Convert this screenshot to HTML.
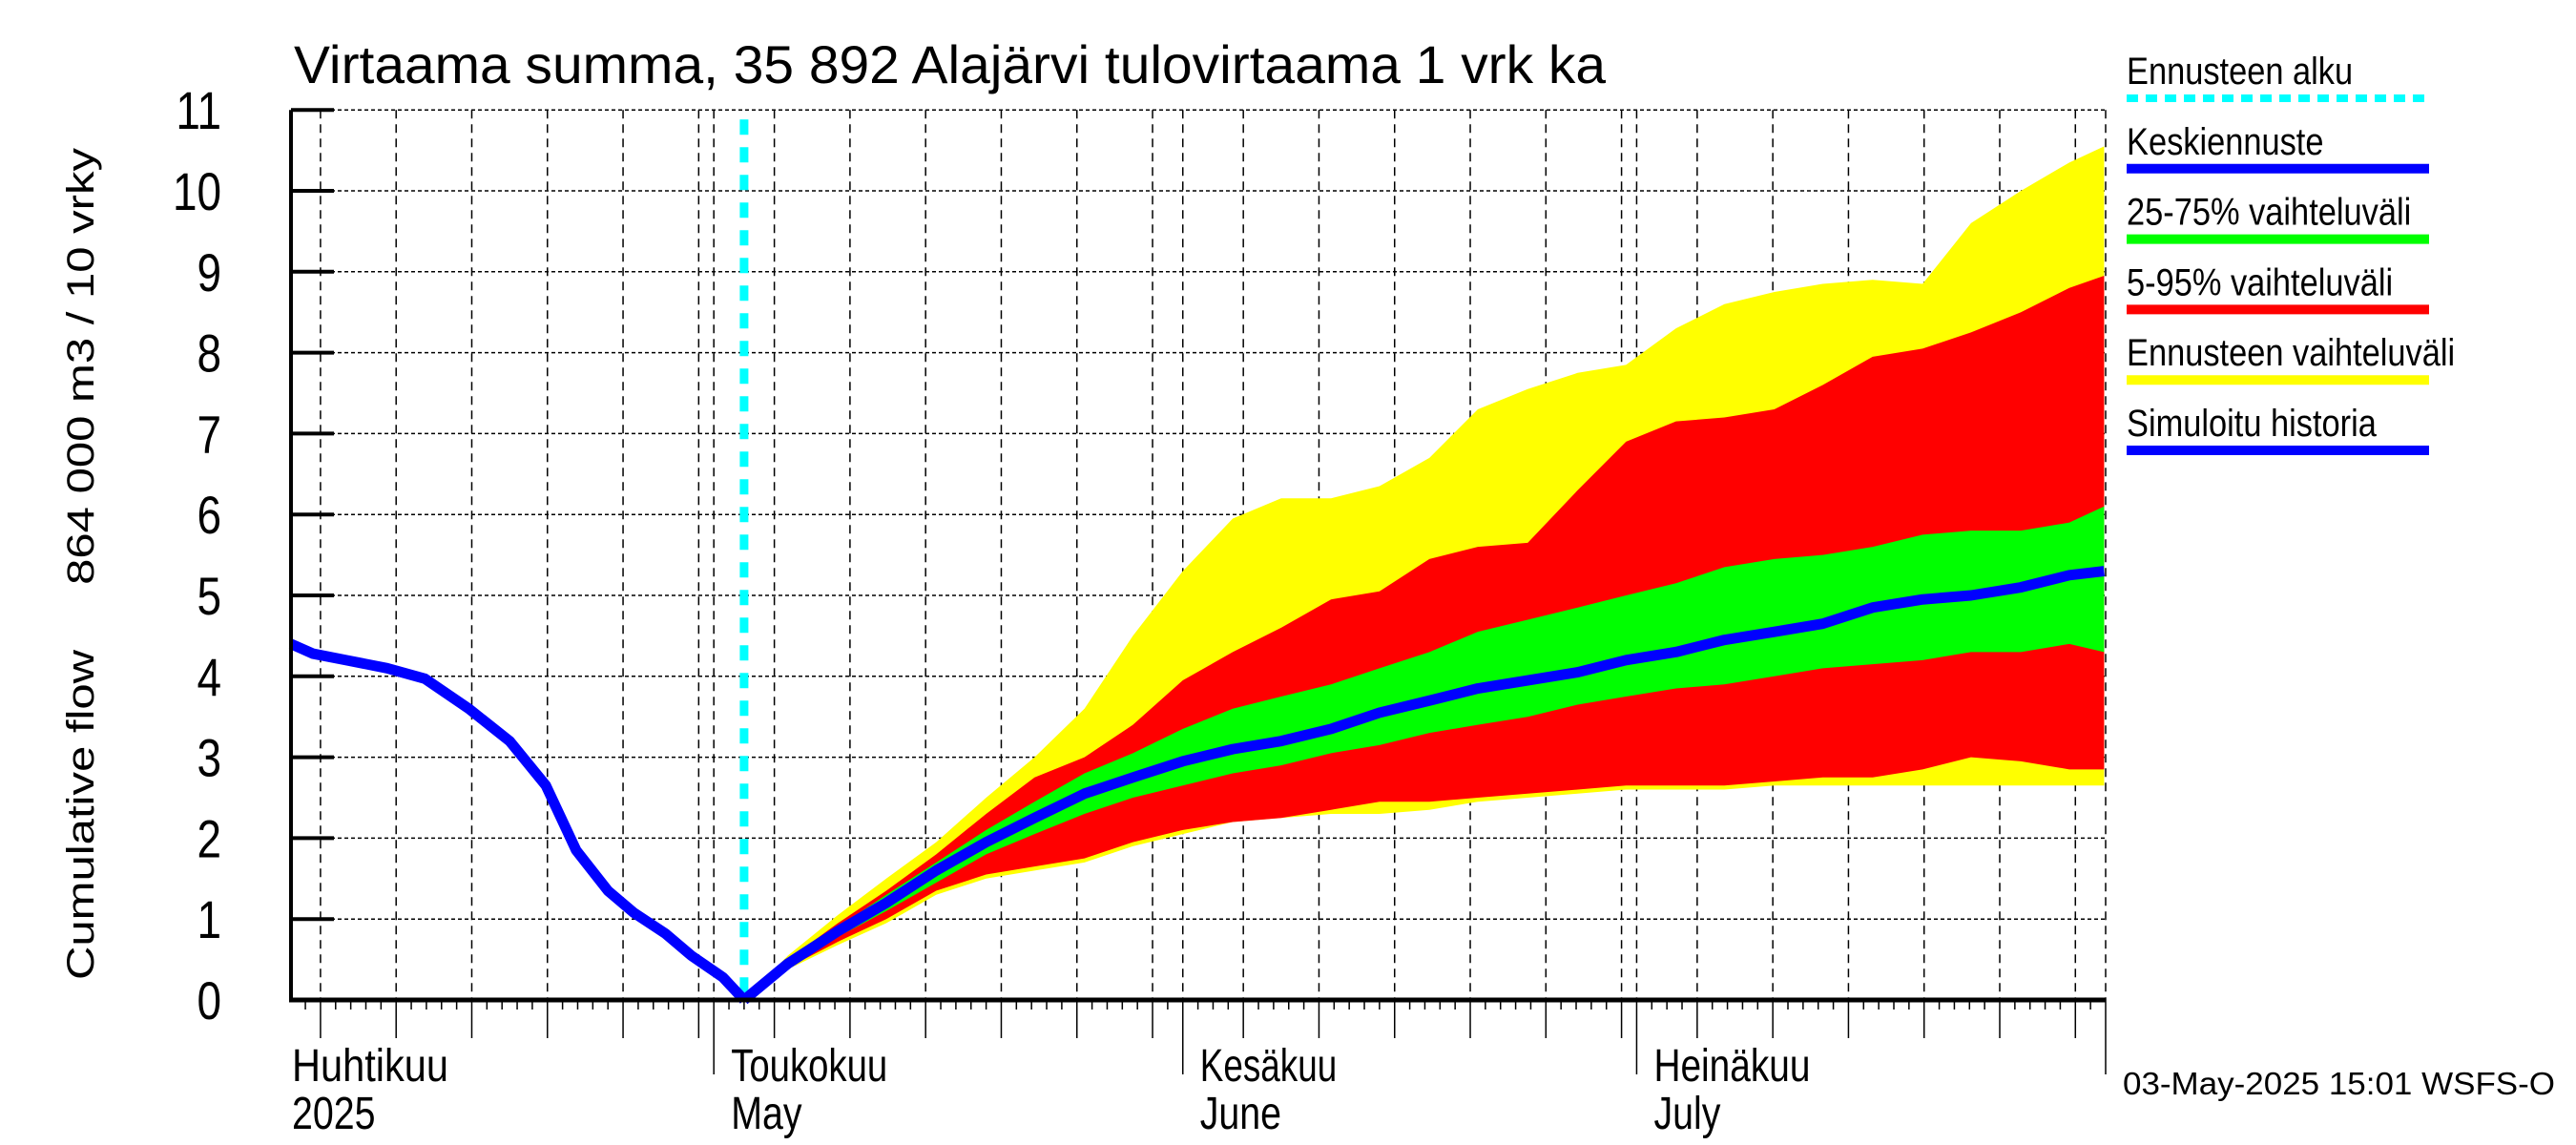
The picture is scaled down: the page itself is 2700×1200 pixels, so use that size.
<!DOCTYPE html>
<html><head><meta charset="utf-8"><style>
html,body{margin:0;padding:0;background:#fff;}
svg{display:block;font-family:"Liberation Sans",sans-serif;}
</style></head><body>
<svg id="chart" width="2700" height="1200" viewBox="0 0 2700 1200" xmlns="http://www.w3.org/2000/svg">
<rect x="0" y="0" width="2700" height="1200" fill="#fff"/>
<g id="grid"></g>
<g id="bands"></g>
<g id="lines"></g>
<g id="axes"></g>
<text x="308" y="87" font-size="56" textLength="1375" lengthAdjust="spacingAndGlyphs">Virtaama summa, 35 892 Alajärvi tulovirtaama 1 vrk ka</text>
<text transform="translate(98,1027) rotate(-90)" font-size="40" textLength="872" lengthAdjust="spacingAndGlyphs" xml:space="preserve">Cumulative flow     864 000 m3 / 10 vrky</text>
<g id="legend"></g>
<text x="2225" y="1147" font-size="33" textLength="453" lengthAdjust="spacingAndGlyphs">03-May-2025 15:01 WSFS-O</text>
</svg>
<script>
// Days since 1 April 2025
const histDays = [2.05, 3.5, 5.7, 8.4, 10.9, 13.8, 16.5, 18.9, 20.9, 23.0, 24.7, 26.8, 28.5, 30.6, 32.0];
const histValues = [4.4, 4.28, 4.2, 4.1, 3.97, 3.6, 3.2, 2.65, 1.85, 1.35, 1.08, 0.82, 0.55, 0.28, 0];
const fcDays = [32, 34.9, 38.2, 41.4, 44.7, 48.0, 51.2, 54.5, 57.7, 61.0, 64.3, 67.5, 70.8, 74.0, 77.3, 80.5, 83.8, 87.1, 90.3, 93.6, 96.8, 100.1, 103.3, 106.6, 109.9, 113.1, 116.4, 119.6, 121.9];
const fcMedian = [0, 0.45, 0.85, 1.2, 1.6, 1.95, 2.25, 2.55, 2.75, 2.95, 3.1, 3.2, 3.35, 3.55, 3.7, 3.85, 3.95, 4.05, 4.2, 4.3, 4.45, 4.55, 4.65, 4.85, 4.95, 5.0, 5.1, 5.25, 5.3];
const fcMax = [0, 0.55, 1.05, 1.5, 1.95, 2.5, 3.0, 3.6, 4.5, 5.3, 5.95, 6.2, 6.2, 6.35, 6.7, 7.3, 7.55, 7.75, 7.85, 8.3, 8.6, 8.75, 8.85, 8.9, 8.85, 9.6, 10.0, 10.35, 10.55];
const fcP95 = [0, 0.5, 0.95, 1.35, 1.8, 2.3, 2.75, 3.0, 3.4, 3.95, 4.3, 4.6, 4.95, 5.05, 5.45, 5.6, 5.65, 6.3, 6.9, 7.15, 7.2, 7.3, 7.6, 7.95, 8.05, 8.25, 8.5, 8.8, 8.95];
const fcP75 = [0, 0.48, 0.9, 1.3, 1.7, 2.1, 2.45, 2.8, 3.05, 3.35, 3.6, 3.75, 3.9, 4.1, 4.3, 4.55, 4.7, 4.85, 5.0, 5.15, 5.35, 5.45, 5.5, 5.6, 5.75, 5.8, 5.8, 5.9, 6.1];
const fcP25 = [0, 0.42, 0.78, 1.1, 1.45, 1.8, 2.05, 2.3, 2.5, 2.65, 2.8, 2.9, 3.05, 3.15, 3.3, 3.4, 3.5, 3.65, 3.75, 3.85, 3.9, 4.0, 4.1, 4.15, 4.2, 4.3, 4.3, 4.4, 4.3];
const fcP5 = [0, 0.4, 0.72, 1.0, 1.35, 1.55, 1.65, 1.75, 1.95, 2.1, 2.2, 2.25, 2.35, 2.45, 2.45, 2.5, 2.55, 2.6, 2.65, 2.65, 2.65, 2.7, 2.75, 2.75, 2.85, 3.0, 2.95, 2.85, 2.85];
const fcMin = [0, 0.38, 0.68, 0.95, 1.3, 1.5, 1.6, 1.7, 1.9, 2.05, 2.2, 2.25, 2.3, 2.3, 2.35, 2.45, 2.5, 2.55, 2.6, 2.6, 2.6, 2.65, 2.65, 2.65, 2.65, 2.65, 2.65, 2.65, 2.65];
const yTicks = [0,1,2,3,4,5,6,7,8,9,10,11];
const monthStarts = [0, 30, 61, 91, 122];
const monthLabelsFi = ["Huhtikuu", "Toukokuu", "Kesäkuu", "Heinäkuu"];
const monthLabelsEn = ["2025", "May", "June", "July"];
const forecastStart = 32;
const legendLabels = ["Ennusteen alku", "Keskiennuste", "25-75% vaihteluväli", "5-95% vaihteluväli", "Ennusteen vaihteluväli", "Simuloitu historia"];
const legendColors = ["#00ffff", "#0000ff", "#00ff00", "#ff0000", "#ffff00", "#0000ff"];

const X0 = 305, X1 = 2207, T0 = 2.05, T1 = 122, Y0 = 1048, YPU = 84.8;
const NS = "http://www.w3.org/2000/svg";
function sx(t){ return X0 + (t - T0) * (X1 - X0) / (T1 - T0); }
function sy(v){ return Y0 - v * YPU; }
function mk(tag, attrs, parent){ const e = document.createElementNS(NS, tag); for (const k in attrs) e.setAttribute(k, attrs[k]); parent.appendChild(e); return e; }
const grid = document.getElementById('grid'), bands = document.getElementById('bands'), lines = document.getElementById('lines'), axes = document.getElementById('axes'), legend = document.getElementById('legend');

yTicks.forEach(v => {
  if (v === 0) return;
  const l = mk('line', {x1: X0, x2: X1, y1: sy(v), y2: sy(v), stroke: '#000', 'stroke-width': 1.5, 'stroke-dasharray': '4 3'}, grid);
  
  
});
const gridDays = [];
for (let m = 0; m < 4; m++) {
  for (let d = 5; d <= 30; d += 5) { const t = monthStarts[m] + d - 1; if (t < monthStarts[m+1] && t > T0) gridDays.push(t); }
  if (m > 0) gridDays.push(monthStarts[m]);
}
gridDays.push(122);
gridDays.forEach(t => {
  const l = mk('line', {x1: sx(t), x2: sx(t), y1: sy(11), y2: Y0, stroke: '#000', 'stroke-width': 1.5, 'stroke-dasharray': '9 6'}, grid);
  
  
});

function band(upper, lower, color, name) {
  let pts = fcDays.map((t, i) => sx(t) + ',' + sy(upper[i]));
  for (let i = fcDays.length - 1; i >= 0; i--) pts.push(sx(fcDays[i]) + ',' + sy(lower[i]));
  const p = mk('polygon', {points: pts.join(' '), fill: color}, bands);
  
  
}
band(fcMax, fcMin, '#ffff00', 'forecast-range-band');
band(fcP95, fcP5, '#ff0000', 'band-5-95');
band(fcP75, fcP25, '#00ff00', 'band-25-75');

const cy = mk('line', {x1: sx(forecastStart), x2: sx(forecastStart), y1: sy(11) + 10, y2: Y0, stroke: '#00ffff', 'stroke-width': 9, 'stroke-dasharray': '16 13'}, lines);



const h = mk('polyline', {points: histDays.map((t, i) => sx(t) + ',' + sy(histValues[i])).join(' '), fill: 'none', stroke: '#0000ff', 'stroke-width': 11, 'stroke-linejoin': 'round'}, lines);


const md = mk('polyline', {points: fcDays.map((t, i) => sx(t) + ',' + sy(fcMedian[i])).join(' '), fill: 'none', stroke: '#0000ff', 'stroke-width': 11, 'stroke-linejoin': 'round'}, lines);



const la = mk('line', {x1: X0, x2: X0, y1: sy(11), y2: Y0 + 2, stroke: '#000', 'stroke-width': 4}, axes);


const ba = mk('line', {x1: X0 - 2, x2: X1, y1: Y0, y2: Y0, stroke: '#000', 'stroke-width': 5}, axes);


yTicks.forEach(v => {
  const tk = mk('line', {x1: X0, x2: X0 + 45, y1: sy(v), y2: sy(v), stroke: '#000', 'stroke-width': 4}, axes);
  
  
  const tx = mk('text', {x: 0, y: 0, 'font-size': 56, 'text-anchor': 'end', transform: 'translate(232,' + (sy(v) + 20) + ') scale(0.82,1)'}, axes);
  tx.textContent = String(v);
  
  
});
for (let t = 3; t <= 122; t++) {
  let len = 10;
  if (gridDays.indexOf(t) >= 0) len = 40;
  if (monthStarts.indexOf(t) >= 0) len = 78;
  const tk = mk('line', {x1: sx(t), x2: sx(t), y1: Y0, y2: Y0 + len, stroke: '#000', 'stroke-width': 1.5}, axes);
  
  
}
monthLabelsFi.forEach((lab, i) => {
  const x = i === 0 ? 306 : sx(monthStarts[i]) + 18;
  const a = mk('text', {x: x, y: 1133, 'font-size': 48, textLength: lab.length * 20.5, lengthAdjust: 'spacingAndGlyphs'}, axes);
  a.textContent = lab;
  
  
  const b = mk('text', {x: 0, y: 0, 'font-size': 48, transform: 'translate(' + x + ',1183) scale(0.82,1)'}, axes);
  b.textContent = monthLabelsEn[i];
  
  
});

legendLabels.forEach((lab, i) => {
  const y = 88 + i * 73.8;
  const t = mk('text', {x: 0, y: 0, 'font-size': 40, transform: 'translate(2229,' + y + ') scale(0.86,1)'}, legend);
  t.textContent = lab;
  
  
  const attrs = {x1: 2229, x2: 2546, y1: y + 15, y2: y + 15, stroke: legendColors[i], 'stroke-width': i === 0 ? 8 : 10};
  if (i === 0) attrs['stroke-dasharray'] = '12 8';
  const l = mk('line', attrs, legend);
  
  
});
</script>
</body></html>
